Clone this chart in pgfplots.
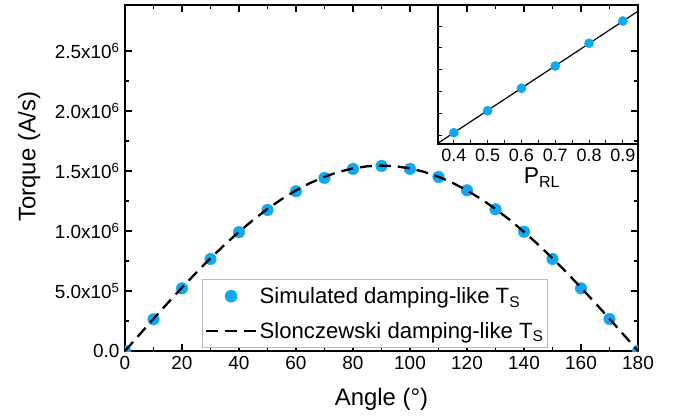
\documentclass[border=0pt]{standalone}
\usepackage{fontspec}
\setmainfont{Liberation Sans}
\usepackage{pgfplots}
\pgfplotsset{compat=1.18}
\definecolor{ptblue}{RGB}{16,168,240}
\pgfplotsset{
  legmark/.style={legend image code/.code={\path[draw=none,fill=none] (0bp,0bp) -- (51bp,0bp); \draw[##1] plot coordinates {(25.5bp,0bp)};}},
  legdash/.style={legend image code/.code={\draw[##1, dash pattern=on 12bp off 7bp] (0bp,0bp) -- (51bp,0bp);}},
}
\begin{document}
\begin{tikzpicture}
\path[use as bounding box] (-125bp,-68bp) rectangle (555bp,351bp);
\begin{axis}[
  at={(0bp,0bp)}, anchor=south west,
  scale only axis, width=513bp, height=346bp,
  xmin=0, xmax=180, ymin=0, ymax=2.883e6,
  xtick={0,20,...,180}, minor x tick num=1,
  ytick={0,5e5,1e6,1.5e6,2e6,2.5e6}, minor y tick num=1,
  yticklabels={0.0, 5.0x10\textsuperscript{5}, 1.0x10\textsuperscript{6}, 1.5x10\textsuperscript{6}, 2.0x10\textsuperscript{6}, 2.5x10\textsuperscript{6}},
  scaled y ticks=false,
  tick align=inside, tick pos=both,
  major tick length=7bp, minor tick length=4bp,
  every tick/.style={black, line width=1.2bp},
  axis line style={line width=1.3bp},
  /pgf/number format/assume math mode=true,
  ticklabel style={font=\fontsize{19}{22}\selectfont},
  xticklabel style={yshift=-2bp},
  yticklabel style={xshift=-2bp},
  xlabel={Angle (°)}, ylabel={Torque (A/s)},
  label style={font=\fontsize{24}{28}\selectfont},
  xlabel style={at={(axis description cs:0.5,-0.139)}, anchor=center},
  ylabel style={at={(axis description cs:-0.187,0.562)}, anchor=center},
  clip marker paths=true,
  legend style={at={(axis description cs:0.150,0.0087)}, anchor=south west,
    draw=gray!55, line width=1bp, font=\fontsize{22.2}{25}\selectfont,
    inner xsep=2bp, inner ysep=6bp, row sep=13bp},
  legend cell align=left,
]
\addplot[only marks, mark=*, mark size=5.8bp, color=ptblue, legmark]
coordinates {
(0,0) (10,264000) (20,522000) (30,767000) (40,990000) (50,1175000)
(60,1331000) (70,1442000) (80,1517000) (90,1542000) (100,1517000)
(110,1450000) (120,1339000) (130,1181000) (140,994000) (150,767000)
(160,522000) (170,267000) (180,0)
};
\addlegendentry{Simulated damping-like T\textsubscript{S}}
\addplot[black, line width=2.3bp, dash pattern=on 12bp off 7bp, legdash]
coordinates {
(0,0) (5,134660) (10,268290) (15,399880) (20,528420) (25,652950) (30,772500)
(35,886180) (40,993110) (45,1092480) (50,1183530) (55,1265590) (60,1338010)
(65,1400250) (70,1451820) (75,1492360) (80,1521530) (85,1539110) (90,1545000)
(95,1539110) (100,1521530) (105,1492360) (110,1451820) (115,1400250) (120,1338010)
(125,1265590) (130,1183530) (135,1092480) (140,993110) (145,886180) (150,772500)
(155,652950) (160,528420) (165,399880) (170,268290) (175,134660) (180,0)
};
\addlegendentry{Slonczewski damping-like T\textsubscript{S}}
\end{axis}
\begin{axis}[
  at={(313bp,207bp)}, anchor=south west,
  scale only axis, width=200bp, height=139bp,
  xmin=0.353, xmax=0.945, ymin=0, ymax=139,
  xtick={0.4,0.5,0.6,0.7,0.8,0.9}, minor x tick num=1,
  ytick={8,30,52,74,96,117}, yticklabels={},
  xtick pos=bottom, ytick pos=left,
  tick align=inside,
  major tick length=4bp, minor tick length=4bp,
  every tick/.style={black, line width=1bp},
  axis line style={line width=1.3bp},
  /pgf/number format/.cd, fixed, precision=1, fixed zerofill, assume math mode=true,
  /pgfplots/.cd,
  ticklabel style={font=\fontsize{18}{21}\selectfont},
  xticklabel style={yshift=-1bp},
  xlabel={P\textsubscript{RL}},
  xlabel style={font=\fontsize{23}{26}\selectfont, at={(axis description cs:0.52,-0.24)}, anchor=center},
]
\addplot[black, line width=1.2bp] coordinates {(0.353,0.8) (0.945,132.8)};
\addplot[only marks, mark=*, mark size=4.6bp, color=ptblue] coordinates {
(0.4,11.3) (0.5,33.3) (0.6,55.7) (0.7,78) (0.8,100.7) (0.9,123)
};
\end{axis}
\end{tikzpicture}
\end{document}
